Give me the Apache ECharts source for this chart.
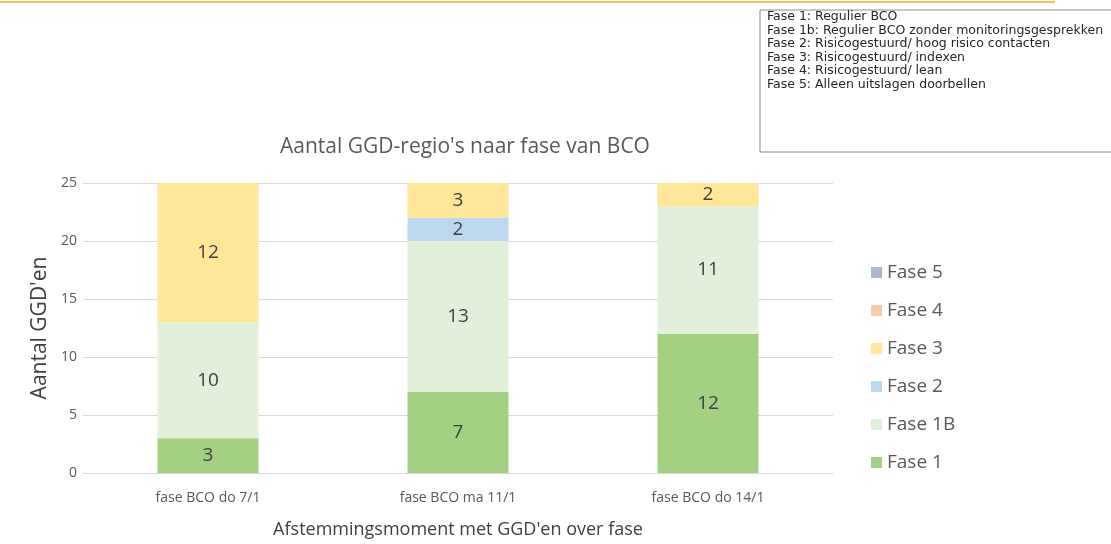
<!DOCTYPE html>
<html>
<head>
<meta charset="utf-8">
<script src="https://cdn.jsdelivr.net/npm/echarts@6/dist/echarts.min.js"></script>
<style>
  html, body { margin: 0; padding: 0; background: #fff; }
  #main { width: 1111px; height: 544px; }
</style>
</head>
<body>
<div id="main"></div>
<script>
// categorieen en waarden per fase
const categories = ['fase BCO do 7/1', 'fase BCO ma 11/1', 'fase BCO do 14/1']
const fase1 = [3, 7, 12]
const fase1B = [10, 13, 11]
const fase2 = [0, 2, 0]
const fase3 = [12, 3, 2]
const fase4 = [0, 0, 0]
const fase5 = [0, 0, 0]
const noteLines = [
  'Fase 1: Regulier BCO',
  'Fase 1b: Regulier BCO zonder monitoringsgesprekken',
  'Fase 2: Risicogestuurd/ hoog risico contacten',
  'Fase 3: Risicogestuurd/ indexen',
  'Fase 4: Risicogestuurd/ lean',
  'Fase 5: Alleen uitslagen doorbellen'
]

const chart = echarts.init(document.getElementById('main'))

function bar(name, data, color) {
  return {
    name: name,
    type: 'bar',
    stack: 'totaal',
    data: data,
    barWidth: 101,
    itemStyle: { color: color },
    label: {
      show: true,
      color: '#404040',
      fontSize: 19,
      fontFamily: 'Open Sans',
      formatter: p => (p.value ? p.value : '')
    }
  }
}

chart.setOption({
  animation: false,
  title: {
    text: "Aantal GGD-regio's naar fase van BCO",
    left: 460,
    textAlign: 'center',
    top: 132,
    textStyle: { fontSize: 21, fontWeight: 'normal', color: '#595959', fontFamily: 'Open Sans' }
  },
  legend: {
    orient: 'vertical',
    left: 866,
    top: 258,
    itemWidth: 11,
    itemHeight: 11,
    itemGap: 19,
    icon: 'rect',
    data: ['Fase 5', 'Fase 4', 'Fase 3', 'Fase 2', 'Fase 1B', 'Fase 1'],
    textStyle: { fontSize: 19, color: '#595959', fontFamily: 'Open Sans' }
  },
  grid: { left: 83, right: 278, top: 183, bottom: 70 },
  xAxis: {
    type: 'category',
    data: categories,
    axisTick: { show: false },
    axisLine: { lineStyle: { color: '#d9d9d9' } },
    axisLabel: { fontSize: 14, color: '#595959', margin: 18, fontFamily: 'Open Sans' },
    name: "Afstemmingsmoment met GGD'en over fase",
    nameLocation: 'middle',
    nameGap: 48,
    nameTextStyle: { fontSize: 18, color: '#404040', fontFamily: 'Open Sans' }
  },
  yAxis: {
    type: 'value',
    min: 0,
    max: 25,
    interval: 5,
    axisLine: { show: false },
    axisTick: { show: false },
    splitLine: { lineStyle: { color: '#d9d9d9' } },
    axisLabel: { fontSize: 14, color: '#595959', margin: 6, fontFamily: 'Open Sans' },
    name: "Aantal GGD'en",
    nameLocation: 'middle',
    nameGap: 32,
    nameTextStyle: { fontSize: 21, color: '#404040', fontFamily: 'Open Sans' }
  },
  series: [
    bar('Fase 1', fase1, '#a3d083'),
    bar('Fase 1B', fase1B, '#e2efda'),
    bar('Fase 2', fase2, '#bdd7ee'),
    bar('Fase 3', fase3, '#ffe699'),
    bar('Fase 4', fase4, '#f8cbad'),
    bar('Fase 5', fase5, '#adb9ca')
  ],
  graphic: [
    {
      type: 'line',
      shape: { x1: 0, y1: 2, x2: 1055, y2: 2 },
      style: { stroke: '#f3c458', lineWidth: 2 }
    },
    {
      type: 'rect',
      shape: { x: 760, y: 10, width: 360, height: 142 },
      style: { fill: '#fff', stroke: '#8c8c8c', lineWidth: 1 }
    },
    {
      type: 'text',
      left: 767,
      top: 10,
      style: {
        text: noteLines.join('\n'),
        font: '12.5px "DejaVu Sans"',
        lineHeight: 13.5,
        fill: '#262626'
      }
    }
  ]
})
</script>
</body>
</html>
